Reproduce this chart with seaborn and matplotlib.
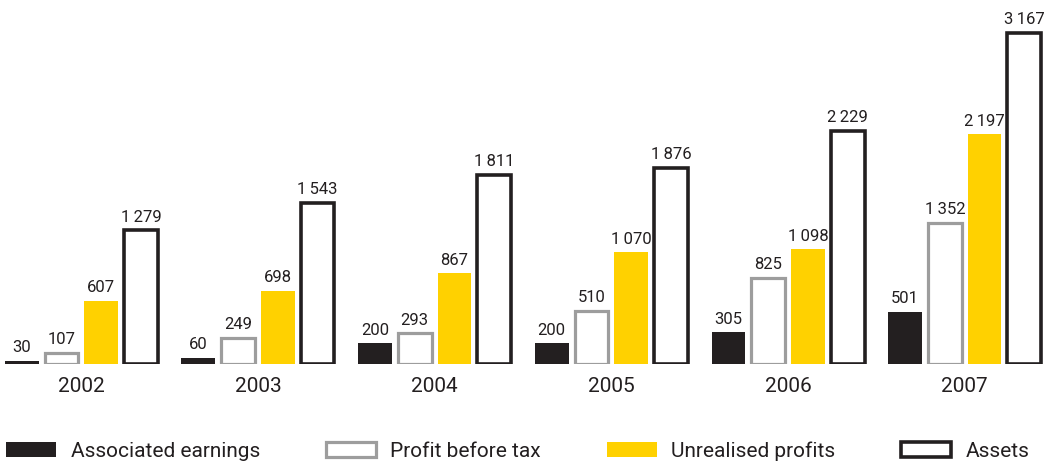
import matplotlib
matplotlib.use('Agg')
import matplotlib.pyplot as plt
import seaborn as sns
import pandas as pd
from matplotlib.patches import Patch

# data
years = ['2002', '2003', '2004', '2005', '2006', '2007']
series = ['Associated earnings', 'Profit before tax', 'Unrealised profits', 'Assets']
associated = [30, 60, 200, 200, 305, 501]
profit = [107, 249, 293, 510, 825, 1352]
unrealised = [607, 698, 867, 1070, 1098, 2197]
assets = [1279, 1543, 1811, 1876, 2229, 3167]

sns.set_theme(style='white')
plt.rcParams['font.family'] = ['Roboto', 'DejaVu Sans']

df = pd.DataFrame({
    'year': years * 4,
    'series': [s for s in series for _ in years],
    'value': associated + profit + unrealised + assets,
})

# face, edge, linewidth per series
styles = [
    ('#231f20', '#231f20', 0.0),
    ('white', '#9d9d9d', 2.3),
    ('#ffd100', '#ffd100', 0.0),
    ('white', '#231f20', 2.6),
]

fig = plt.figure(figsize=(10.46, 4.67), dpi=100)
ax = fig.add_axes([0, 103 / 467, 1, 364 / 467])
sns.barplot(data=df, x='year', y='value', hue='series', hue_order=series,
            width=0.9, gap=0.15, saturation=1, legend=False, ax=ax)

def fmt(v):
    return f'{v:,}'.replace(',', '\u2009')

for cont, (fc, ec, lw), s in zip(ax.containers, styles, series):
    for bar in cont:
        bar.set_facecolor(fc)
        bar.set_edgecolor(ec)
        bar.set_linewidth(lw)
    vals = df.loc[df['series'] == s, 'value'].tolist()
    ax.bar_label(cont, labels=[fmt(v) for v in vals], padding=4,
                 fontsize=12, color='#231f20')

ax.set_xlim(-0.46, 5.46)
ax.set_ylim(0, 3483)
ax.set_xlabel('')
ax.set_ylabel('')
ax.set_yticks([])
ax.tick_params(axis='x', length=0, pad=9, labelsize=15, labelcolor='#231f20')
for sp in ax.spines.values():
    sp.set_visible(False)

handles = [Patch(facecolor=fc, edgecolor=ec, linewidth=lw) for fc, ec, lw in styles]
fig.legend(handles, series, loc='lower left', bbox_to_anchor=(0, 0), ncol=4,
           frameon=False, fontsize=15, handlelength=2.4, handleheight=0.8,
           handletextpad=0.7, columnspacing=3.15, borderaxespad=0.2, borderpad=0.1,
           labelcolor='#231f20')

fig.savefig('out.png', dpi=100)
